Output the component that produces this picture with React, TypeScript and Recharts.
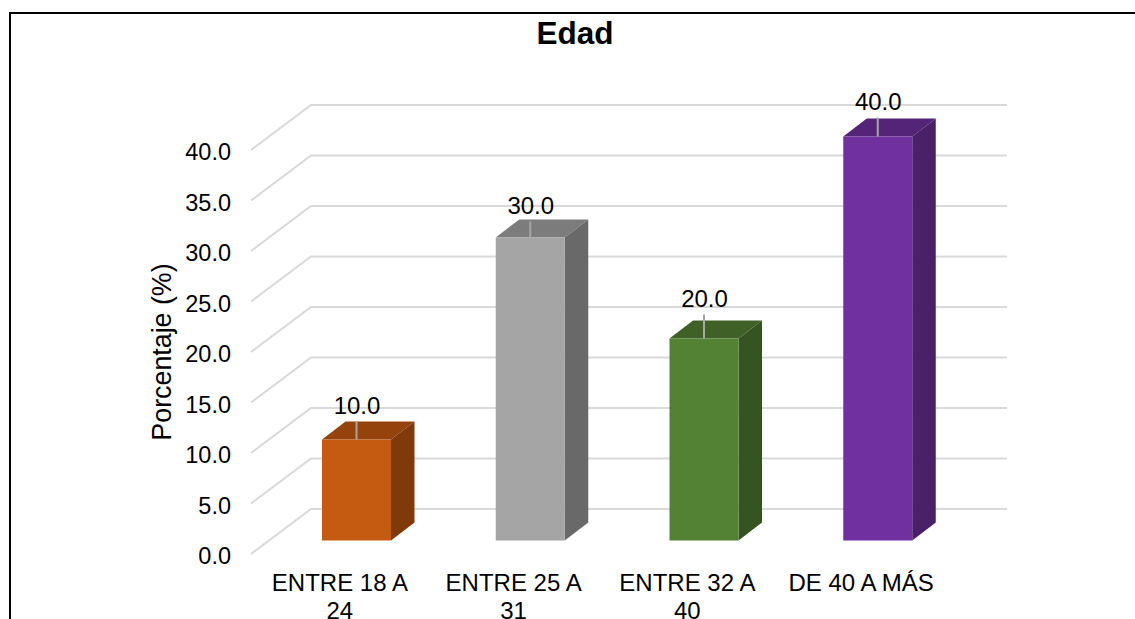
import { BarChart, Bar, XAxis, YAxis, CartesianGrid, LabelList } from 'recharts';

const categories = ['ENTRE 18 A 24', 'ENTRE 25 A 31', 'ENTRE 32 A 40', 'DE 40 A MÁS'];
const percentages = [10, 30, 20, 40];
const yTicks = [0, 5, 10, 15, 20, 25, 30, 35, 40];

const frontColors = ['#C55A11', '#A5A5A5', '#548235', '#7030A0'];
const topColors = ['#93430B', '#7C7C7C', '#3F6127', '#542478'];
const sideColors = ['#7F3A0A', '#696969', '#365422', '#4A2068'];
const leaderLengths = [18, 16, 24, 19];

const data = categories.map((name, i) => ({ name, value: percentages[i] }));

const FONT = '"Liberation Sans", Arial, sans-serif';

// fake 3D: the front of the bars sits off the axis plane, the back wall further away
const BAR_SHIFT_X = 17;
const BAR_SHIFT_Y = -13.5;
const DEPTH_X = 23.5;
const DEPTH_Y = -18;
const WALL_X = 60;
const WALL_Y = -45;

const Bar3D = (props: any) => {
  const { x, y, width, height, index } = props;
  const l = x + BAR_SHIFT_X;
  const r = l + width;
  const t = y + BAR_SHIFT_Y;
  const b = t + height;
  return (
    <g>
      <polygon
        points={`${l},${t} ${l + DEPTH_X},${t + DEPTH_Y} ${r + DEPTH_X},${t + DEPTH_Y} ${r},${t}`}
        fill={topColors[index]}
      />
      <polygon
        points={`${r},${t} ${r + DEPTH_X},${t + DEPTH_Y} ${r + DEPTH_X},${b + DEPTH_Y} ${r},${b}`}
        fill={sideColors[index]}
      />
      <rect x={l} y={t} width={width} height={height} fill={frontColors[index]} />
    </g>
  );
};

const BarLabel = (props: any) => {
  const { x, y, width, value, index } = props;
  const cx = x + width / 2 + BAR_SHIFT_X;
  const t = y + BAR_SHIFT_Y;
  const top = t - leaderLengths[index];
  return (
    <g>
      <line x1={cx} x2={cx} y1={top} y2={t} stroke="#A6A6A6" strokeWidth={2} />
      <text x={cx + 0.5} y={top - 16} textAnchor="middle" dominantBaseline="central" fontSize={24} fontFamily={FONT} fill="#000">
        {Number(value).toFixed(1)}
      </text>
    </g>
  );
};

const GridLine = (props: any) => {
  const { x1, x2, y1 } = props;
  return (
    <path
      d={`M${x1 - 2},${y1} L${x1 - 2 + WALL_X},${y1 + WALL_Y} L${x2 + WALL_X - 1},${y1 + WALL_Y}`}
      fill="none"
      stroke="#D9D9D9"
      strokeWidth={2}
    />
  );
};

const CategoryTick = (props: any) => {
  const { x, y, payload } = props;
  const label: string = payload.value;
  // long labels break before the last word
  const cut = label.lastIndexOf(' ');
  const lines = label.length > 11 ? [label.slice(0, cut), label.slice(cut + 1)] : [label];
  return (
    <text x={x} y={y + 29} textAnchor="middle" fontSize={24} fontFamily={FONT} fill="#000">
      {lines.map((line, i) => (
        <tspan key={line} x={x} dy={i === 0 ? 0 : 27.5}>
          {line}
        </tspan>
      ))}
    </text>
  );
};

export default function App() {
  return (
    <div style={{ position: 'absolute', left: 0, top: 0, width: 1135, height: 619, overflow: 'hidden', background: '#fff' }}>
      <div style={{ position: 'absolute', left: 9, top: 12, right: 0, bottom: -5, borderTop: '2px solid #000', borderLeft: '2px solid #000' }} />
      <div style={{ position: 'absolute', left: 0, width: 1150, top: 15, textAlign: 'center', fontFamily: FONT, fontWeight: 700, fontSize: 31.5, lineHeight: '36px', color: '#000' }}>
        Edad
      </div>
      <BarChart width={1135} height={619} data={data} margin={{ top: 150, right: 187, left: 0, bottom: 0 }} style={{ position: 'absolute' }}>
        <CartesianGrid vertical={false} horizontal={GridLine} />
        <XAxis dataKey="name" axisLine={false} tickLine={false} tick={CategoryTick} interval={0} height={65} />
        <YAxis
          width={253}
          domain={[0, 40]}
          ticks={yTicks}
          axisLine={false}
          tickLine={false}
          tickMargin={16}
          tickFormatter={(v: number) => v.toFixed(1)}
          tick={{ fontSize: 23.5, fontFamily: FONT, fill: '#000', dy: 2 }}
          label={{ value: 'Porcentaje (%)', angle: -90, position: 'insideLeft', offset: 161, fontSize: 26.8, fontFamily: FONT, fill: '#000', style: { textAnchor: 'middle' } }}
        />
        <Bar dataKey="value" barSize={69} shape={Bar3D} isAnimationActive={false}>
          <LabelList dataKey="value" content={BarLabel} />
        </Bar>
      </BarChart>
    </div>
  );
}
